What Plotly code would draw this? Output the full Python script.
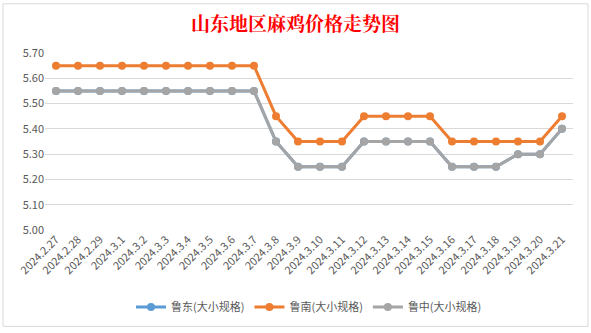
import plotly.graph_objects as go

dates = ["2024.2.27", "2024.2.28", "2024.2.29", "2024.3.1", "2024.3.2", "2024.3.3",
         "2024.3.4", "2024.3.5", "2024.3.6", "2024.3.7", "2024.3.8", "2024.3.9",
         "2024.3.10", "2024.3.11", "2024.3.12", "2024.3.13", "2024.3.14", "2024.3.15",
         "2024.3.16", "2024.3.17", "2024.3.18", "2024.3.19", "2024.3.20", "2024.3.21"]

ludong = [5.55, 5.55, 5.55, 5.55, 5.55, 5.55, 5.55, 5.55, 5.55, 5.55, 5.35, 5.25,
          5.25, 5.25, 5.35, 5.35, 5.35, 5.35, 5.25, 5.25, 5.25, 5.30, 5.30, 5.40]
lunan = [5.65, 5.65, 5.65, 5.65, 5.65, 5.65, 5.65, 5.65, 5.65, 5.65, 5.45, 5.35,
         5.35, 5.35, 5.45, 5.45, 5.45, 5.45, 5.35, 5.35, 5.35, 5.35, 5.35, 5.45]
luzhong = [5.55, 5.55, 5.55, 5.55, 5.55, 5.55, 5.55, 5.55, 5.55, 5.55, 5.35, 5.25,
           5.25, 5.25, 5.35, 5.35, 5.35, 5.35, 5.25, 5.25, 5.25, 5.30, 5.30, 5.40]

series = [("鲁东(大小规格)", ludong, "#5b9bd5"),
          ("鲁南(大小规格)", lunan, "#ed7d31"),
          ("鲁中(大小规格)", luzhong, "#a5a5a5")]

font_family = "Noto Sans CJK SC, Microsoft YaHei, sans-serif"

fig = go.Figure()
for name, vals, color in series:
    fig.add_trace(go.Scatter(
        x=dates, y=vals, name=name, mode="lines+markers",
        line=dict(color=color, width=3),
        marker=dict(color=color, size=8),
    ))

fig.update_layout(
    width=591, height=333,
    margin=dict(l=45, r=18, t=53, b=100),
    paper_bgcolor="white", plot_bgcolor="white",
    font=dict(family=font_family, color="#595959", size=11),
    title=dict(text="<b>山东地区麻鸡价格走势图</b>", x=0.5, xanchor="center",
               y=1 - 24 / 333, yanchor="middle",
               font=dict(family="Noto Serif CJK SC, SimSun, serif", size=19, color="#ff0000")),
    showlegend=True,
    legend=dict(orientation="h", x=0.5, xanchor="center", y=-0.435, yanchor="middle",
                font=dict(size=11, color="#595959"), itemwidth=30,
                traceorder="normal"),
    xaxis=dict(type="category", tickangle=-45, showgrid=False, showline=False,
               ticks="", tickfont=dict(size=11, color="#595959"),
               range=[-0.5, len(dates) - 0.5]),
    yaxis=dict(range=[5.0, 5.7], dtick=0.1, tick0=5.0, tickformat=".2f",
               showgrid=True, gridcolor="#d9d9d9", gridwidth=1, zeroline=False,
               showline=False, ticks="", tickfont=dict(size=11, color="#595959")),
)

fig.add_shape(type="rect", xref="paper", yref="paper",
              x0=-42 / 528, x1=1 + 15 / 528, y0=-98 / 180, y1=1 + 50 / 180,
              line=dict(color="#d9d9d9", width=1), fillcolor="rgba(0,0,0,0)")

fig.write_html("out.html")
